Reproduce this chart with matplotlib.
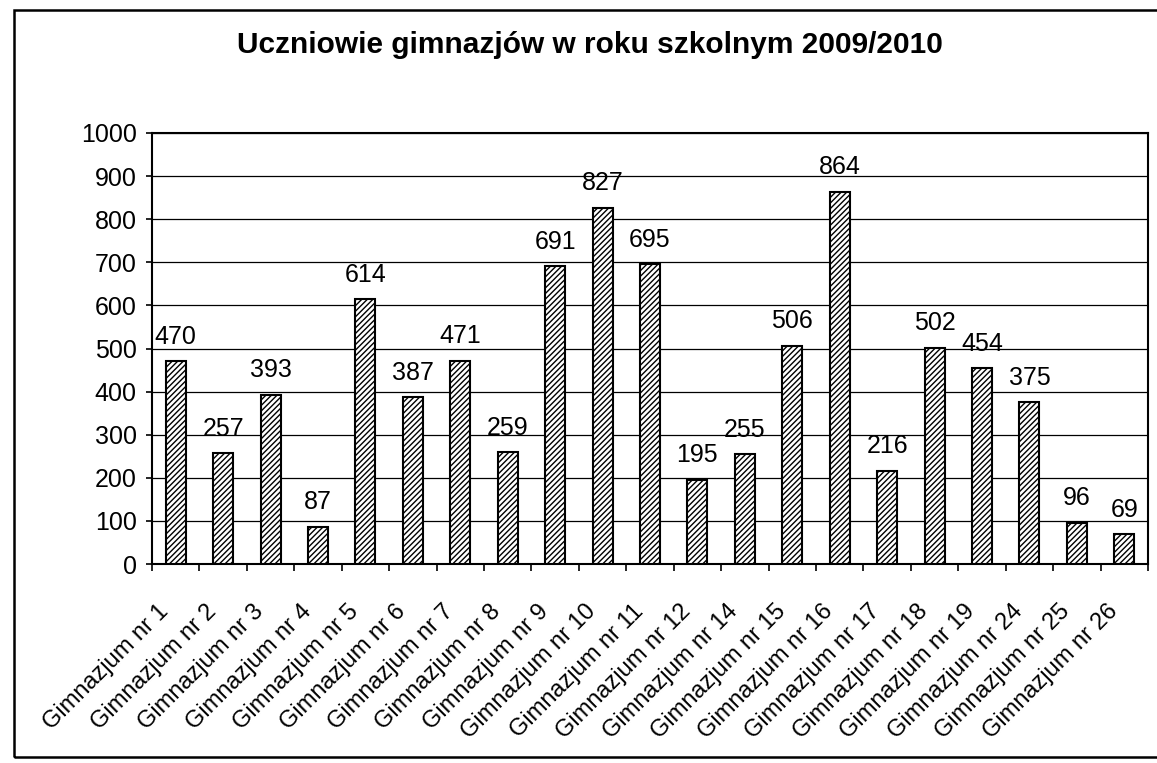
import matplotlib
matplotlib.use("Agg")
import matplotlib.pyplot as plt
from matplotlib.patches import Rectangle
from matplotlib.transforms import ScaledTranslation

plt.rcParams['font.family'] = ['Liberation Sans', 'DejaVu Sans']
plt.rcParams['hatch.linewidth'] = 1.0

categories = ["Gimnazjum nr 1", "Gimnazjum nr 2", "Gimnazjum nr 3", "Gimnazjum nr 4",
              "Gimnazjum nr 5", "Gimnazjum nr 6", "Gimnazjum nr 7", "Gimnazjum nr 8",
              "Gimnazjum nr 9", "Gimnazjum nr 10", "Gimnazjum nr 11", "Gimnazjum nr 12",
              "Gimnazjum nr 14", "Gimnazjum nr 15", "Gimnazjum nr 16", "Gimnazjum nr 17",
              "Gimnazjum nr 18", "Gimnazjum nr 19", "Gimnazjum nr 24", "Gimnazjum nr 25",
              "Gimnazjum nr 26"]
values = [470, 257, 393, 87, 614, 387, 471, 259, 691, 827, 695, 195,
          255, 506, 864, 216, 502, 454, 375, 96, 69]
yticks = list(range(0, 1001, 100))
title = "Uczniowie gimnazjów w roku szkolnym 2009/2010"

W, H = 1157, 763
fig = plt.figure(figsize=(W / 100, H / 100), dpi=100)
ax = fig.add_axes([152 / W, 1 - 564 / H, (1148 - 152) / W, (564 - 133) / H])

x = list(range(len(categories)))
ax.bar(x, values, width=0.42, color='white', edgecolor='black', linewidth=1.5,
       hatch='//////', zorder=3)

for xi, v in zip(x, values):
    ax.annotate(str(v), (xi, v), xytext=(0, 9), textcoords='offset points',
                ha='center', va='bottom', fontsize=18, zorder=4)

ax.set_xlim(-0.5, len(categories) - 0.5)
ax.set_ylim(0, 1000)
ax.set_yticks(yticks)
ax.set_yticklabels([str(t) for t in yticks], fontsize=18)
ax.yaxis.grid(True, color='black', linewidth=0.9, zorder=0)
ax.set_axisbelow(True)

# x ticks at category boundaries, labels at centers
ax.set_xticks([i - 0.5 for i in range(len(categories) + 1)])
ax.set_xticklabels([])
ax.set_xticks(x, minor=True)
ax.set_xticklabels(categories, minor=True, rotation=45, ha='right',
                   rotation_mode='anchor', fontsize=17)
ax.tick_params(axis='x', which='minor', length=0, pad=26)
ax.tick_params(axis='x', which='major', length=5, width=1.2, direction='out')
ax.tick_params(axis='y', length=4, width=1.2, direction='out', pad=7)
shift = ScaledTranslation(-18 / 100, 0, fig.dpi_scale_trans)
for lbl in ax.get_xticklabels(minor=True):
    lbl.set_transform(lbl.get_transform() + shift)

for s in ax.spines.values():
    s.set_linewidth(1.5)
    s.set_color('black')

fig.text(590 / W, 1 - 45 / H, title, ha='center', va='center',
         fontsize=21.5, fontweight='bold')

# outer chart border
fig.patches.append(Rectangle((14 / W, 1 - 757 / H), (W + 50) / W, (757 - 10) / H,
                             transform=fig.transFigure, fill=False,
                             edgecolor='black', linewidth=1.8, clip_on=False))

fig.savefig('out.png', dpi=100, facecolor='white')
